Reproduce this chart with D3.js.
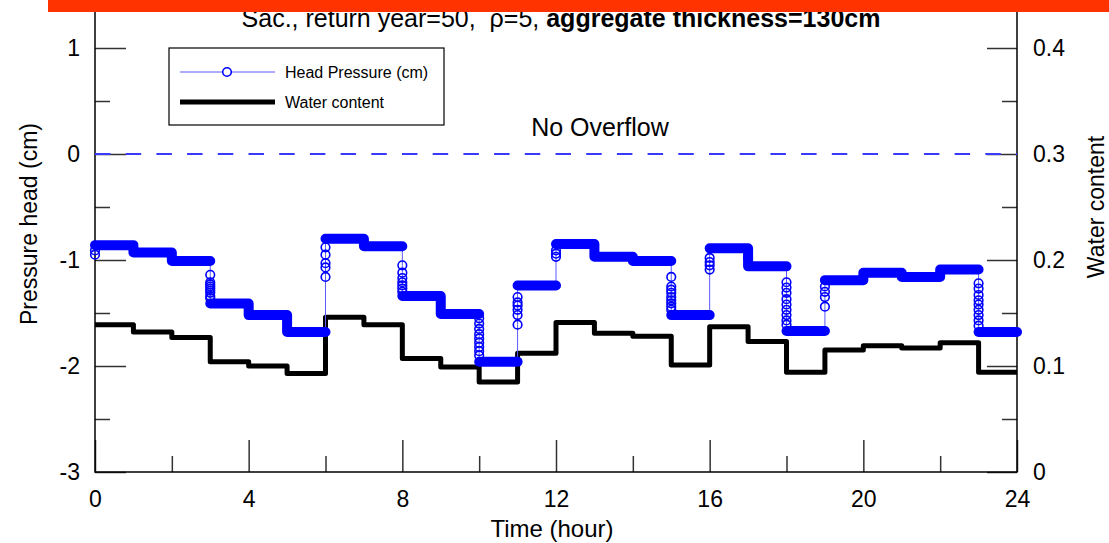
<!DOCTYPE html>
<html>
<head>
<meta charset="utf-8">
<script src="https://cdn.jsdelivr.net/npm/d3@7"></script>
<style>
  body { margin: 0; background: #fff; }
  svg { display: block; font-family: "Liberation Sans", Arial, sans-serif; }
</style>
</head>
<body>
<svg id="chart" width="1109" height="543"></svg>
<script>
// hourly plateau levels
const hourStarts = d3.range(0, 24);
const headLevels = [-0.86, -0.93, -1.01, -1.41, -1.52, -1.68, -0.80, -0.87, -1.34, -1.51, -1.96, -1.24,
    -0.85, -0.97, -1.01, -1.52, -0.89, -1.06, -1.67, -1.19, -1.12, -1.16, -1.09, -1.68];
const waterLevels = [0.139, 0.132, 0.127, 0.104, 0.100, 0.093, 0.146, 0.139, 0.107, 0.099, 0.085, 0.112,
    0.141, 0.131, 0.128, 0.101, 0.137, 0.123, 0.094, 0.115, 0.119, 0.117, 0.122, 0.094];

// the spread-out markers where the head jumps
const transitionTimes = [0, 3, 6, 8, 10, 11, 12, 15, 16, 17, 18, 19, 23];
const transitionHeads = [
    [-0.95, -0.91],
    [-1.14, -1.21, -1.23, -1.25, -1.27, -1.29, -1.31, -1.34, -1.36],
    [-1.16, -1.07, -1.03, -0.95, -0.88],
    [-1.05, -1.12, -1.17, -1.21, -1.24, -1.27, -1.30],
    [-1.55, -1.60, -1.65, -1.70, -1.74, -1.78, -1.82, -1.86, -1.90],
    [-1.61, -1.52, -1.47, -1.43, -1.40, -1.35],
    [-0.97, -0.94, -0.91],
    [-1.16, -1.25, -1.28, -1.31, -1.35, -1.38, -1.41, -1.44, -1.47],
    [-1.09, -1.05, -1.02, -0.98],
    [-0.98],
    [-1.21, -1.26, -1.31, -1.37, -1.42, -1.47, -1.52, -1.57, -1.61],
    [-1.44, -1.35, -1.30, -1.25],
    [-1.22, -1.27, -1.33, -1.38, -1.42, -1.47, -1.52, -1.57, -1.62]
];

const xTicks = [0, 4, 8, 12, 16, 20, 24];
const xMinorTicks = [2, 6, 10, 14, 18, 22];
const leftTicks = [1, 0, -1, -2, -3];
const leftMinorTicks = [0.5, -0.5, -1.5, -2.5];
const rightTicks = [0.4, 0.3, 0.2, 0.1, 0];
const rightMinorTicks = [0.35, 0.25, 0.15, 0.05];

const blue = "#0000ff";
const plotLeft = 95, plotRight = 1017, plotTop = 48, plotBottom = 472;

const svg = d3.select("#chart");

const x = d3.scaleLinear().domain([0, 24]).range([plotLeft, plotRight]);
const yLeft = d3.scaleLinear().domain([-3, 1]).range([plotBottom, plotTop]);
const yRight = d3.scaleLinear().domain([0, 0.4]).range([plotBottom, plotTop]);

// ticks (inward) + labels
function styleAxis(g) {
    g.select(".domain").remove();
    g.selectAll(".tick line").attr("stroke", "#333").attr("stroke-width", 1.5);
    g.selectAll(".tick text").attr("fill", "#000").style("font-size", "23px");
}

svg.append("g").attr("transform", "translate(" + plotLeft + ",0)")
    .call(d3.axisLeft(yLeft).tickValues(leftTicks).tickSize(-31).tickPadding(15).tickFormat(d => String(d)))
    .call(styleAxis);
svg.append("g").attr("transform", "translate(" + plotLeft + ",0)")
    .call(d3.axisLeft(yLeft).tickValues(leftMinorTicks).tickSize(-15).tickFormat(""))
    .call(styleAxis);

svg.append("g").attr("transform", "translate(" + plotRight + ",0)")
    .call(d3.axisRight(yRight).tickValues(rightTicks).tickSize(-30).tickPadding(16).tickFormat(d => String(d)))
    .call(styleAxis);
svg.append("g").attr("transform", "translate(" + plotRight + ",0)")
    .call(d3.axisRight(yRight).tickValues(rightMinorTicks).tickSize(-15).tickFormat(""))
    .call(styleAxis);

svg.append("g").attr("transform", "translate(0," + plotBottom + ")")
    .call(d3.axisBottom(x).tickValues(xTicks).tickSize(-32).tickPadding(19).tickFormat(d => String(d)))
    .call(styleAxis);
svg.append("g").attr("transform", "translate(0," + plotBottom + ")")
    .call(d3.axisBottom(x).tickValues(xMinorTicks).tickSize(-16).tickFormat(""))
    .call(styleAxis);

// frame
svg.append("path")
    .attr("d", "M" + plotLeft + ",0V" + plotBottom + "H" + plotRight + "V0")
    .attr("fill", "none")
    .attr("stroke", "#000")
    .attr("stroke-width", 1.5);

// overflow level
svg.append("line")
    .attr("x1", plotLeft).attr("x2", plotRight)
    .attr("y1", yLeft(0)).attr("y2", yLeft(0))
    .attr("stroke", "#3a3aff")
    .attr("stroke-width", 2)
    .attr("stroke-dasharray", "15.5,15.2");

svg.append("text")
    .attr("x", 600).attr("y", 136)
    .attr("text-anchor", "middle")
    .style("font-size", "25px")
    .text("No Overflow");

// water content, step line
const waterPts = hourStarts.map((h, i) => [h, waterLevels[i]]);
waterPts.push([24, waterLevels[23]]);
svg.append("path")
    .datum(waterPts)
    .attr("fill", "none")
    .attr("stroke", "#000")
    .attr("stroke-width", 5)
    .attr("stroke-linejoin", "round")
    .attr("d", d3.line().x(d => x(d[0])).y(d => yRight(d[1])).curve(d3.curveStepAfter));

// head pressure: thin line through every point
const headPts = [];
hourStarts.forEach((h, i) => {
    const k = transitionTimes.indexOf(h);
    if (k >= 0) transitionHeads[k].forEach(p => headPts.push([h, p]));
    headPts.push([h, headLevels[i]]);
    headPts.push([h + 1, headLevels[i]]);
});
svg.append("path")
    .datum(headPts)
    .attr("fill", "none")
    .attr("stroke", "#5a5aff")
    .attr("stroke-width", 1)
    .attr("d", d3.line().x(d => x(d[0])).y(d => yLeft(d[1])));

// dense markers on the plateaus merge into a band; break it at the big jumps
const runs = [];
let run = [];
hourStarts.forEach((h, i) => {
    if (i > 0 && Math.abs(headLevels[i] - headLevels[i - 1]) > 0.2) {
        run.push([h, headLevels[i - 1]]);
        runs.push(run);
        run = [];
    }
    run.push([h, headLevels[i]]);
});
run.push([24, headLevels[23]]);
runs.push(run);

svg.selectAll(".band")
    .data(runs)
    .enter().append("path")
    .attr("class", "band")
    .attr("fill", "none")
    .attr("stroke", blue)
    .attr("stroke-width", 10)
    .attr("stroke-linejoin", "round")
    .attr("stroke-linecap", "round")
    .attr("d", d3.line().x(d => x(d[0])).y(d => yLeft(d[1])).curve(d3.curveStepAfter));

// loose markers at the jumps
const loosePts = [];
transitionTimes.forEach((t, k) => transitionHeads[k].forEach(p => loosePts.push([t, p])));
svg.selectAll(".marker")
    .data(loosePts)
    .enter().append("circle")
    .attr("class", "marker")
    .attr("cx", d => x(d[0]))
    .attr("cy", d => yLeft(d[1]))
    .attr("r", 4.3)
    .attr("fill", "none")
    .attr("stroke", blue)
    .attr("stroke-width", 1.6);

// axis titles
svg.append("text")
    .attr("transform", "translate(37," + 224 + ") rotate(-90)")
    .attr("text-anchor", "middle")
    .style("font-size", "23px")
    .text("Pressure head (cm)");

svg.append("text")
    .attr("transform", "translate(1104," + 207 + ") rotate(-90)")
    .attr("text-anchor", "middle")
    .style("font-size", "23px")
    .text("Water content");

svg.append("text")
    .attr("x", 552).attr("y", 537)
    .attr("text-anchor", "middle")
    .style("font-size", "24px")
    .text("Time (hour)");

// legend
const legend = svg.append("g");
legend.append("rect")
    .attr("x", 169).attr("y", 48)
    .attr("width", 275).attr("height", 77)
    .attr("fill", "#fff")
    .attr("stroke", "#000")
    .attr("stroke-width", 1.2);
legend.append("line")
    .attr("x1", 180).attr("x2", 275).attr("y1", 72).attr("y2", 72)
    .attr("stroke", "#5a5aff").attr("stroke-width", 1);
legend.append("circle")
    .attr("cx", 227).attr("cy", 72).attr("r", 4.3)
    .attr("fill", "#fff").attr("stroke", blue).attr("stroke-width", 1.6);
legend.append("line")
    .attr("x1", 180).attr("x2", 275).attr("y1", 102).attr("y2", 102)
    .attr("stroke", "#000").attr("stroke-width", 5);
legend.append("text")
    .attr("x", 285).attr("y", 78)
    .style("font-size", "16px")
    .text("Head Pressure (cm)");
legend.append("text")
    .attr("x", 285).attr("y", 108)
    .style("font-size", "16px")
    .text("Water content");

// title, partly hidden under the red banner
const title = svg.append("text")
    .attr("x", 561).attr("y", 27)
    .attr("text-anchor", "middle")
    .style("font-size", "25px")
    .style("white-space", "pre");
title.append("tspan").text("Sac., return year=50,  ρ=5, ");
title.append("tspan").style("font-weight", "bold").text("aggregate thickness=130cm");

svg.append("rect")
    .attr("x", 48).attr("y", 0)
    .attr("width", 1061).attr("height", 12)
    .attr("fill", "#ff3300");
</script>
</body>
</html>
